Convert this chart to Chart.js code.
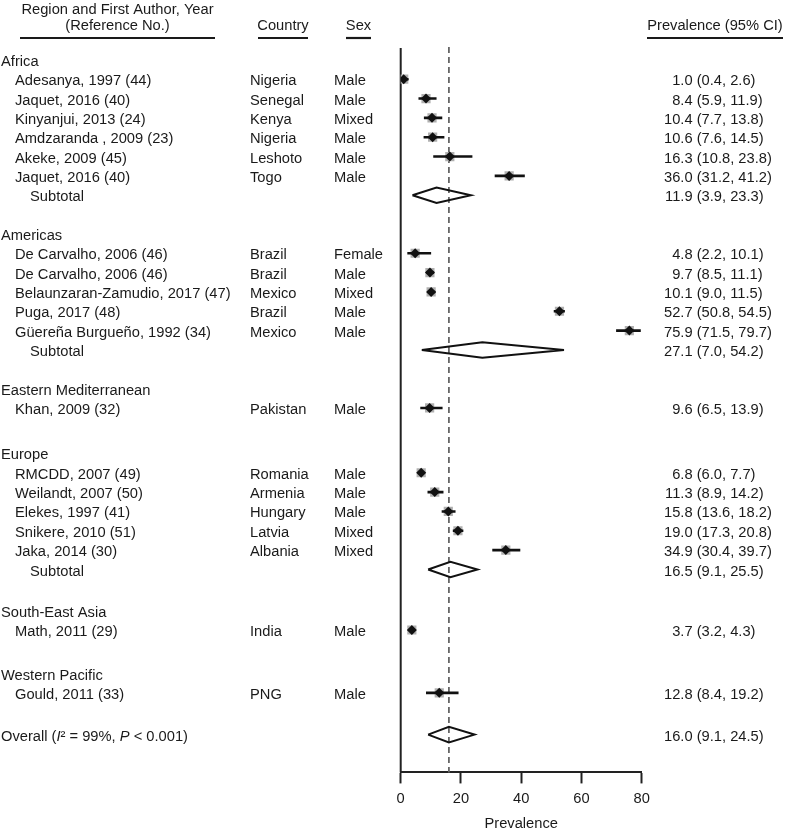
<!DOCTYPE html>
<html>
<head>
<meta charset="utf-8">
<title>Prevalence forest plot</title>
<script src="https://cdn.jsdelivr.net/npm/chart.js@4.4.0/dist/chart.umd.min.js"></script>
<style>
  html, body { margin: 0; padding: 0; background: #fff; }
  #wrap { position: relative; width: 787px; height: 833px; }
</style>
</head>
<body>
<div id="wrap"><canvas id="forest"></canvas></div>
<script>
// ---- data ----
const regions = ['Africa', 'Americas', 'Eastern Mediterranean', 'Europe', 'South-East Asia', 'Western Pacific'];

const studies = [
    'Adesanya, 1997 (44)', 'Jaquet, 2016 (40)', 'Kinyanjui, 2013 (24)', 'Amdzaranda , 2009 (23)',
    'Akeke, 2009 (45)', 'Jaquet, 2016 (40)',
    'De Carvalho, 2006 (46)', 'De Carvalho, 2006 (46)', 'Belaunzaran-Zamudio, 2017 (47)', 'Puga, 2017 (48)',
    'Güereña Burgueño, 1992 (34)',
    'Khan, 2009 (32)',
    'RMCDD, 2007 (49)', 'Weilandt, 2007 (50)', 'Elekes, 1997 (41)', 'Snikere, 2010 (51)', 'Jaka, 2014 (30)',
    'Math, 2011 (29)',
    'Gould, 2011 (33)'
];
const studyRegion = [0, 0, 0, 0, 0, 0, 1, 1, 1, 1, 1, 2, 3, 3, 3, 3, 3, 4, 5];
const countries = [
    'Nigeria', 'Senegal', 'Kenya', 'Nigeria', 'Leshoto', 'Togo',
    'Brazil', 'Brazil', 'Mexico', 'Brazil', 'Mexico',
    'Pakistan',
    'Romania', 'Armenia', 'Hungary', 'Latvia', 'Albania',
    'India',
    'PNG'
];
const sexes = [
    'Male', 'Male', 'Mixed', 'Male', 'Male', 'Male',
    'Female', 'Male', 'Mixed', 'Male', 'Male',
    'Male',
    'Male', 'Male', 'Male', 'Mixed', 'Mixed',
    'Male',
    'Male'
];
const estimate = [1.0, 8.4, 10.4, 10.6, 16.3, 36.0, 4.8, 9.7, 10.1, 52.7, 75.9, 9.6, 6.8, 11.3, 15.8, 19.0, 34.9, 3.7, 12.8];
const lower    = [0.4, 5.9, 7.7, 7.6, 10.8, 31.2, 2.2, 8.5, 9.0, 50.8, 71.5, 6.5, 6.0, 8.9, 13.6, 17.3, 30.4, 3.2, 8.4];
const upper    = [2.6, 11.9, 13.8, 14.5, 23.8, 41.2, 10.1, 11.1, 11.5, 54.5, 79.7, 13.9, 7.7, 14.2, 18.2, 20.8, 39.7, 4.3, 19.2];

const subtotalRegion = [0, 1, 3];
const subtotalEst  = [11.9, 27.1, 16.5];
const subtotalLow  = [3.9, 7.0, 9.1];
const subtotalHigh = [23.3, 54.2, 25.5];

const overall = [16.0, 9.1, 24.5]; // estimate, lower, upper
const xTicks = [0, 20, 40, 60, 80];

// ---- layout ----
const FONT = '"Liberation Sans", Arial, sans-serif';
const FONT_SIZE = 14.7;
const TEXT_COLOR = '#1a1a1a';
const groupGap = [3, 3, 3.35, 3.13, 3.25]; // rows from last line of a region to first study of the next
const overallGap = 2.16;
const DIAMOND_H = 0.4;

const headingRow = [], studyRow = [], subtotalRow = [];
let last = 0;
regions.forEach((name, g) => {
    let row = g === 0 ? 1 : last + groupGap[g - 1];
    headingRow[g] = row - 1;
    studyRegion.forEach((sg, i) => {
        if (sg === g) { studyRow[i] = row; last = row; row += 1; }
    });
    const s = subtotalRegion.indexOf(g);
    if (s >= 0) { subtotalRow[s] = row; last = row; }
});
const overallRow = last + overallGap;

const fmt = v => v.toFixed(1);
const gap = { x: NaN, y: NaN };

const markerPts = estimate.map((v, i) => ({ x: v, y: studyRow[i] }));
const ciPts = [];
estimate.forEach((v, i) => {
    ciPts.push({ x: lower[i], y: studyRow[i] }, { x: upper[i], y: studyRow[i] }, gap);
});

function diamond(est, lo, hi, row) {
    return [
        { x: lo, y: row }, { x: est, y: row - DIAMOND_H }, { x: hi, y: row },
        { x: est, y: row + DIAMOND_H }, { x: lo, y: row }, gap
    ];
}
let diamondPts = [];
subtotalEst.forEach((v, s) => {
    diamondPts = diamondPts.concat(diamond(v, subtotalLow[s], subtotalHigh[s], subtotalRow[s]));
});
diamondPts = diamondPts.concat(diamond(overall[0], overall[1], overall[2], overallRow));

// reference lines: solid at 0, dashed at the overall estimate
const refLines = {
    id: 'refLines',
    beforeDatasetsDraw(chart) {
        const { ctx, chartArea, scales } = chart;
        ctx.save();
        const x0 = scales.x.getPixelForValue(0);
        ctx.strokeStyle = '#222';
        ctx.lineWidth = 2;
        ctx.beginPath();
        ctx.moveTo(x0, chartArea.top);
        ctx.lineTo(x0, chartArea.bottom);
        ctx.stroke();

        const xo = scales.x.getPixelForValue(overall[0]);
        ctx.strokeStyle = '#666';
        ctx.lineWidth = 1.8;
        ctx.setLineDash([6, 4]);
        ctx.beginPath();
        ctx.moveTo(xo, chartArea.top - 1);
        ctx.lineTo(xo, chartArea.bottom);
        ctx.stroke();
        ctx.restore();
    }
};

// table text around the plot
const tableText = {
    id: 'tableText',
    afterDraw(chart) {
        const ctx = chart.ctx;
        const yScale = chart.scales.y;
        const rowY = r => yScale.getPixelForValue(r) + 2;
        const font = `${FONT_SIZE}px ${FONT}`;
        const italic = `italic ${FONT_SIZE}px ${FONT}`;
        ctx.save();
        ctx.fillStyle = TEXT_COLOR;
        ctx.strokeStyle = TEXT_COLOR;
        ctx.font = font;
        ctx.textBaseline = 'middle';

        // column headers
        ctx.textAlign = 'center';
        ctx.fillText('Region and First Author, Year', 117.5, 10);
        ctx.fillText('(Reference No.)', 117.5, 26);
        ctx.fillText('Country', 283, 26);
        ctx.fillText('Sex', 358.5, 26);
        ctx.fillText('Prevalence (95% CI)', 715, 26);
        ctx.lineWidth = 2.2;
        [[20, 215], [258, 308], [346, 371], [647, 783]].forEach(([a, b]) => {
            ctx.beginPath();
            ctx.moveTo(a, 38);
            ctx.lineTo(b, 38);
            ctx.stroke();
        });

        const valueText = (est, lo, hi, y) => {
            ctx.textAlign = 'right';
            ctx.fillText(fmt(est), 692.6, y);
            ctx.textAlign = 'left';
            ctx.fillText(`(${fmt(lo)}, ${fmt(hi)})`, 696.7, y);
        };

        ctx.textAlign = 'left';
        regions.forEach((name, g) => ctx.fillText(name, 1, rowY(headingRow[g])));

        studies.forEach((name, i) => {
            const y = rowY(studyRow[i]);
            ctx.textAlign = 'left';
            ctx.fillText(name, 15, y);
            ctx.fillText(countries[i], 250, y);
            ctx.fillText(sexes[i], 334, y);
            valueText(estimate[i], lower[i], upper[i], y);
        });

        subtotalEst.forEach((v, s) => {
            const y = rowY(subtotalRow[s]);
            ctx.textAlign = 'left';
            ctx.fillText('Subtotal', 30, y);
            valueText(v, subtotalLow[s], subtotalHigh[s], y);
        });

        // Overall (I² = 99%, P < 0.001)
        const oy = rowY(overallRow);
        const parts = [['Overall (', font], ['I', italic], ['² = 99%, ', font], ['P', italic], [' < 0.001)', font]];
        let ox = 1;
        ctx.textAlign = 'left';
        parts.forEach(([t, f]) => {
            ctx.font = f;
            ctx.fillText(t, ox, oy);
            ox += ctx.measureText(t).width;
        });
        ctx.font = font;
        valueText(overall[0], overall[1], overall[2], oy);
        ctx.restore();
    }
};

new Chart(document.getElementById('forest'), {
    type: 'scatter',
    data: {
        datasets: [
            {
                label: 'Estimate',
                data: markerPts,
                pointStyle: 'rectRot',
                pointRadius: 5,
                backgroundColor: '#111',
                borderColor: '#111',
                borderWidth: 0,
                order: 0
            },
            {
                label: '95% CI',
                data: ciPts,
                showLine: true,
                spanGaps: false,
                pointRadius: 0,
                borderColor: '#111',
                borderWidth: 2.6,
                order: 1
            },
            {
                label: 'Weight',
                data: markerPts,
                pointStyle: 'rect',
                pointRadius: 6.5,
                backgroundColor: '#b0b0b0',
                borderWidth: 0,
                order: 2
            },
            {
                label: 'Pooled',
                data: diamondPts,
                showLine: true,
                spanGaps: false,
                pointRadius: 0,
                borderColor: '#111',
                borderWidth: 2,
                backgroundColor: 'transparent',
                fill: false,
                order: 3
            }
        ]
    },
    options: {
        responsive: true,
        maintainAspectRatio: false,
        devicePixelRatio: 1,
        animation: false,
        layout: { padding: { top: 48, left: 400.7, right: 145.3, bottom: 0 } },
        plugins: {
            legend: { display: false },
            tooltip: { enabled: false }
        },
        scales: {
            x: {
                type: 'linear',
                position: 'bottom',
                min: 0,
                max: 80,
                afterBuildTicks: axis => { axis.ticks = xTicks.map(v => ({ value: v })); },
                grid: {
                    display: true,
                    drawOnChartArea: false,
                    drawTicks: true,
                    tickLength: 11,
                    tickWidth: 2,
                    tickColor: '#222'
                },
                border: { display: true, color: '#222', width: 2 },
                ticks: {
                    color: TEXT_COLOR,
                    font: { family: FONT, size: FONT_SIZE },
                    padding: 7,
                    maxRotation: 0
                },
                title: {
                    display: true,
                    text: 'Prevalence',
                    color: TEXT_COLOR,
                    font: { family: FONT, size: FONT_SIZE },
                    padding: { top: 0, bottom: 0.3 }
                }
            },
            y: {
                type: 'linear',
                display: false,
                reverse: true,
                min: -0.613,
                max: 36.845
            }
        }
    },
    plugins: [refLines, tableText]
});
</script>
</body>
</html>
